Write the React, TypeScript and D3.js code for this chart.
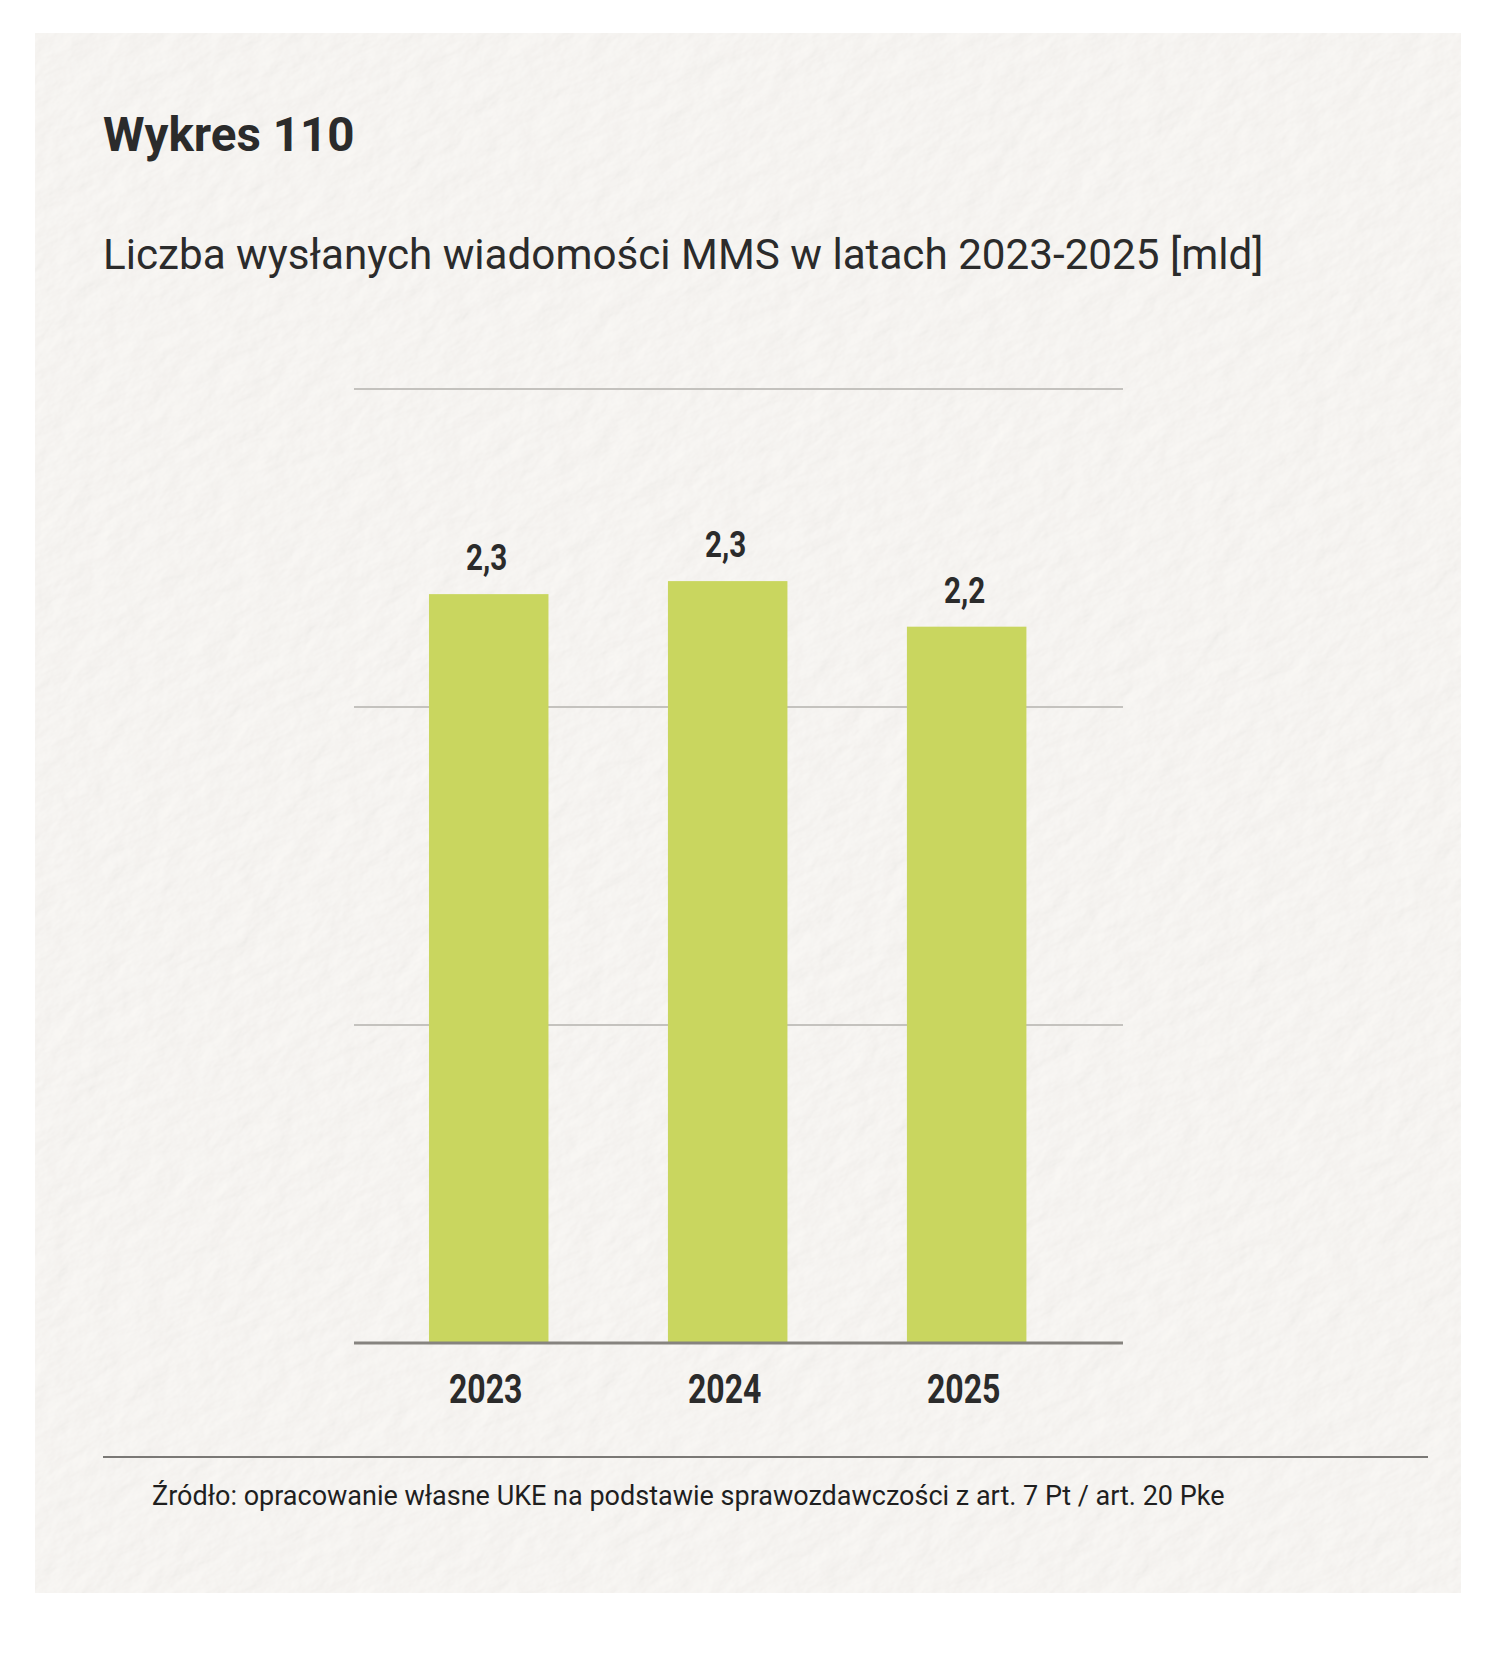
import React, { useEffect } from "react";
import * as d3 from "d3";

// Chart data
const years = ["2023", "2024", "2025"];
const mmsBillions = [2.3, 2.34, 2.2];
const valueMax = 2.93;
const gridCount = 3;

const titleText = "Wykres 110";
const subtitleText = "Liczba wysłanych wiadomości MMS w latach 2023-2025 [mld]";
const sourceText =
  "Źródło: opracowanie własne UKE na podstawie sprawozdawczości z art. 7 Pt / art. 20 Pke";

const W = 1500;
const H = 1666;
const plot = { left: 354, right: 1123, top: 389, bottom: 1343 };
const panel = { x: 35, y: 33, w: 1426, h: 1560 };

const barColor = "#c9d65f";
const inkColor = "#2b2b2b";
const fontMain = "Roboto, 'Noto Sans', sans-serif";

const fmt = (v: number) => d3.format(".1f")(v).replace(".", ",");

export default function App() {
  useEffect(() => {
    document.body.style.margin = "0";
  }, []);

  const x = d3
    .scaleBand<string>()
    .domain(years)
    .range([plot.left, plot.right])
    .paddingInner(0.5)
    .paddingOuter(0.359)
    .align(0.437);

  const y = d3.scaleLinear().domain([0, valueMax]).range([plot.bottom, plot.top]);
  const gridValues = d3.range(1, gridCount + 1).map((i) => (valueMax * i) / gridCount);

  const pcx = panel.x + panel.w / 2;
  const pcy = panel.y + panel.h / 2;

  return (
    <svg width={W} height={H} style={{ display: "block" }} xmlns="http://www.w3.org/2000/svg">
      <defs>
        <filter id="paper" x="0" y="0" width="100%" height="100%" filterUnits="objectBoundingBox">
          <feTurbulence type="fractalNoise" baseFrequency="0.03 0.05" numOctaves="5" seed="7" result="noise" />
          <feDiffuseLighting in="noise" lightingColor="#ffffff" surfaceScale="0.9" result="lit">
            <feDistantLight azimuth="225" elevation="72" />
          </feDiffuseLighting>
          <feFlood floodColor="#fbf9f6" result="tint" />
          <feBlend in="lit" in2="tint" mode="multiply" result="paperTone" />
          <feComposite in="paperTone" in2="SourceGraphic" operator="in" />
        </filter>
        <clipPath id="panelClip">
          <rect x={panel.x} y={panel.y} width={panel.w} height={panel.h} />
        </clipPath>
      </defs>

      <rect x={0} y={0} width={W} height={H} fill="#ffffff" />
      <rect x={panel.x} y={panel.y} width={panel.w} height={panel.h} fill="#efeeeb" />
      <g clipPath="url(#panelClip)">
        <g transform={`rotate(-25 ${pcx} ${pcy})`}>
          <rect x={-400} y={-400} width={2300} height={2500} fill="#efeeeb" filter="url(#paper)" />
        </g>
      </g>

      <text x={103} y={151} fontFamily={fontMain} fontWeight={700} fontSize={47.5} fill={inkColor}>
        {titleText}
      </text>
      <text x={103} y={269} fontFamily={fontMain} fontWeight={400} fontSize={42.2} fill={inkColor}>
        {subtitleText}
      </text>

      {/* gridlines */}
      <g>
        {gridValues.map((v, i) => (
          <line
            key={i}
            x1={plot.left}
            x2={plot.right}
            y1={y(v)}
            y2={y(v)}
            stroke="#c4c2be"
            strokeWidth={2}
          />
        ))}
      </g>

      {/* bars */}
      <g>
        {years.map((yr, i) => (
          <rect
            key={yr}
            x={x(yr)}
            y={y(mmsBillions[i])}
            width={x.bandwidth()}
            height={y(0) - y(mmsBillions[i])}
            fill={barColor}
          />
        ))}
      </g>

      {/* baseline */}
      <line x1={plot.left} x2={plot.right} y1={y(0)} y2={y(0)} stroke="#86837f" strokeWidth={3} />

      {/* value labels */}
      <g>
        {years.map((yr, i) => {
          const cx = (x(yr) as number) + x.bandwidth() / 2 - 2;
          const ty = y(mmsBillions[i]) - 24;
          return (
            <text
              key={yr}
              transform={`translate(${cx},${ty}) scale(0.8,1)`}
              textAnchor="middle"
              fontFamily={fontMain}
              fontWeight={700}
              fontSize={37}
              fill={inkColor}
            >
              {fmt(mmsBillions[i])}
            </text>
          );
        })}
      </g>

      {/* category labels */}
      <g>
        {years.map((yr) => {
          const cx = (x(yr) as number) + x.bandwidth() / 2 - 3;
          return (
            <text
              key={yr}
              transform={`translate(${cx},1403) scale(0.8,1)`}
              textAnchor="middle"
              fontFamily={fontMain}
              fontWeight={700}
              fontSize={40}
              fill={inkColor}
            >
              {yr}
            </text>
          );
        })}
      </g>

      <line x1={103} x2={1428} y1={1457} y2={1457} stroke="#7a7875" strokeWidth={2} />
      <text x={152} y={1505} fontFamily={fontMain} fontWeight={400} fontSize={27} fill="#1f1f1f">
        {sourceText}
      </text>
    </svg>
  );
}
